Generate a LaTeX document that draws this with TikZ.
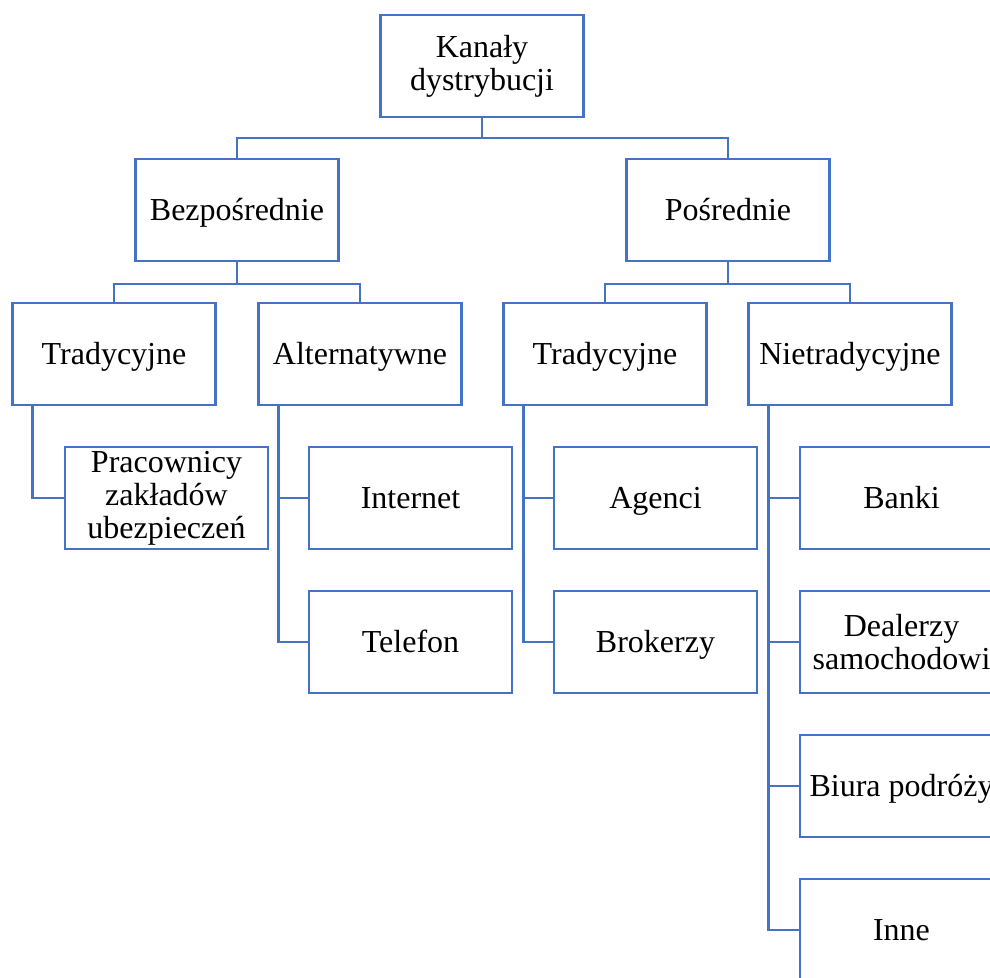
\documentclass[tikz,border=0pt]{standalone}
\usepackage{fontspec}
\setmainfont{Liberation Serif}
\definecolor{boxblue}{HTML}{4472C4}
\begin{document}
\begin{tikzpicture}[x=1pt,y=-1pt,
  box/.style={draw=boxblue,line width=2.4pt,fill=white,minimum width=203pt,minimum height=102pt,
    inner sep=0pt,align=center,font=\fontsize{32}{33}\selectfont},
  single/.style={box,text height=24pt,text depth=4pt},
  conn/.style={draw=boxblue,line width=2.4pt}]
\useasboundingbox (0,0) rectangle (990,977);
\clip (0,0) rectangle (990,977);
\node[box] (root) at (482,66) {Kanały\\dystrybucji};
\node[single] (bez) at (237,210) {Bezpośrednie};
\node[single] (pos) at (728,210) {Pośrednie};
\node[single] (t1) at (114,354) {Tradycyjne};
\node[single] (alt) at (360,354) {Alternatywne};
\node[single] (t2) at (605,354) {Tradycyjne};
\node[single] (niet) at (850,354) {Nietradycyjne};
\node[box] (prac) at (166.5,498) {Pracownicy\\zakładów\\ubezpieczeń};
\node[single] (inter) at (410.5,498) {Internet};
\node[single] (tel) at (410.5,642) {Telefon};
\node[single] (ag) at (655.5,498) {Agenci};
\node[single] (bro) at (655.5,642) {Brokerzy};
\node[single] (banki) at (901.5,498) {Banki};
\node[box] (deal) at (901.5,642) {Dealerzy\\samochodowi};
\node[single] (biura) at (901.5,786) {Biura podróży};
\node[single] (inne) at (901.5,930) {Inne};
% level 1 -> 2
\draw[conn] (root.south) -- ++(0,20) coordinate (r1);
\draw[conn] (bez.north) |- (r1) -| (pos.north);
% level 2 -> 3
\draw[conn] (bez.south) -- ++(0,22) coordinate (b1);
\draw[conn] (t1.north) |- (b1) -| (alt.north);
\draw[conn] (pos.south) -- ++(0,22) coordinate (p1);
\draw[conn] (t2.north) |- (p1) -| (niet.north);
% level 3 -> 4
\draw[conn] ([xshift=21pt]t1.south west) |- (prac.west);
\draw[conn] ([xshift=21pt]alt.south west) |- (tel.west);
\draw[conn] ([xshift=21pt]alt.south west) |- (inter.west);
\draw[conn] ([xshift=21pt]t2.south west) |- (bro.west);
\draw[conn] ([xshift=21pt]t2.south west) |- (ag.west);
\draw[conn] ([xshift=21pt]niet.south west) |- (inne.west);
\draw[conn] ([xshift=21pt]niet.south west) |- (biura.west);
\draw[conn] ([xshift=21pt]niet.south west) |- (deal.west);
\draw[conn] ([xshift=21pt]niet.south west) |- (banki.west);
\end{tikzpicture}
\end{document}
